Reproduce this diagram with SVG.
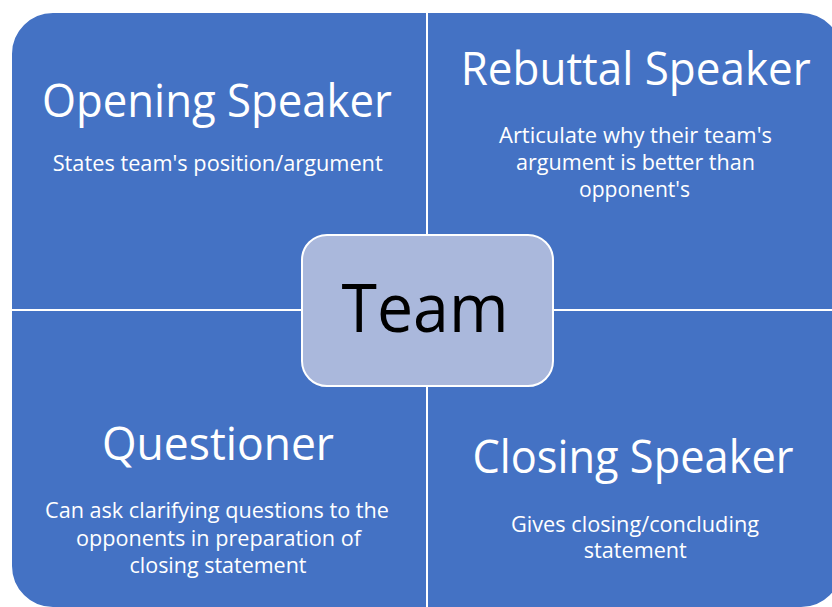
<svg xmlns="http://www.w3.org/2000/svg" width="832" height="607" viewBox="0 0 832 607">
  <style>
    .quad { fill: #4472C4; stroke: #FFFFFF; stroke-width: 2; }
    .hub { fill: #AAB8DC; stroke: #FFFFFF; stroke-width: 2; }
    .title { font-family: "Open Sans", "Noto Sans", sans-serif; font-size: 46px; fill: #FFFFFF; text-anchor: middle; }
    .body { font-family: "Open Sans", "Noto Sans", sans-serif; font-size: 21px; fill: #FFFFFF; text-anchor: middle; }
    .hubtext { font-family: "Open Sans", "Noto Sans", sans-serif; font-size: 67px; fill: #000000; text-anchor: middle; }
  </style>
  <rect width="832" height="607" fill="#FFFFFF"/>

  <!-- Matrix quadrants; the white outlines form the divider lines -->
  <g id="opening-speaker">
    <path class="quad" d="M11,310 V54 A42,42 0 0 1 53,12 H427 V310 Z"/>
    <text class="title" x="217" y="116.5" textLength="350" lengthAdjust="spacingAndGlyphs">Opening Speaker</text>
    <text class="body" x="217.7" y="171" textLength="330" lengthAdjust="spacingAndGlyphs">States team's position/argument</text>
  </g>

  <g id="rebuttal-speaker">
    <path class="quad" d="M427,12 H801 A42,42 0 0 1 843,54 V310 H427 Z"/>
    <text class="title" x="635.7" y="85" textLength="350" lengthAdjust="spacingAndGlyphs">Rebuttal Speaker</text>
    <text class="body" x="635.5" y="142.7" textLength="273" lengthAdjust="spacingAndGlyphs">Articulate why their team's</text>
    <text class="body" x="635.5" y="170" textLength="239" lengthAdjust="spacingAndGlyphs">argument is better than</text>
    <text class="body" x="634.5" y="196.5" textLength="111" lengthAdjust="spacingAndGlyphs">opponent's</text>
  </g>

  <g id="questioner">
    <path class="quad" d="M11,310 H427 V608 H53 A42,42 0 0 1 11,566 Z"/>
    <text class="title" x="218" y="460" textLength="232" lengthAdjust="spacingAndGlyphs">Questioner</text>
    <text class="body" x="217" y="518.3" textLength="344" lengthAdjust="spacingAndGlyphs">Can ask clarifying questions to the</text>
    <text class="body" x="218.5" y="545.5" textLength="285" lengthAdjust="spacingAndGlyphs">opponents in preparation of</text>
    <text class="body" x="218" y="573" textLength="177" lengthAdjust="spacingAndGlyphs">closing statement</text>
  </g>

  <g id="closing-speaker">
    <path class="quad" d="M427,310 H843 V566 A42,42 0 0 1 801,608 H427 Z"/>
    <text class="title" x="633" y="473.3" textLength="321" lengthAdjust="spacingAndGlyphs">Closing Speaker</text>
    <text class="body" x="635" y="531.5" textLength="248" lengthAdjust="spacingAndGlyphs">Gives closing/concluding</text>
    <text class="body" x="635.3" y="558.3" textLength="103" lengthAdjust="spacingAndGlyphs">statement</text>
  </g>

  <!-- Central hub -->
  <g id="team">
    <rect class="hub" x="302" y="235" width="251" height="151" rx="25" ry="25"/>
    <text class="hubtext" x="425" y="331.7" textLength="167" lengthAdjust="spacingAndGlyphs">Team</text>
  </g>

  <g id="connectors"/>
</svg>
